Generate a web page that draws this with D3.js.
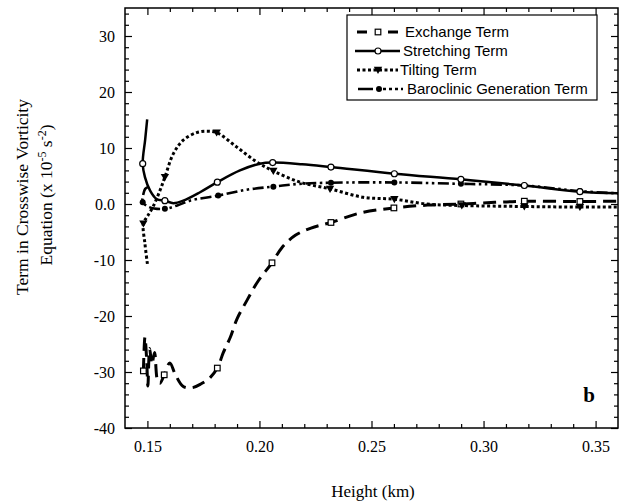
<!DOCTYPE html>
<html>
<head>
<meta charset="utf-8">
<script src="https://cdn.jsdelivr.net/npm/d3@7"></script>
<style>
  html, body { margin: 0; padding: 0; background: #fff; }
  svg { display: block; }
</style>
</head>
<body>
<svg id="chart" width="619" height="504"></svg>
<script>
// ---------- data ----------
const xMajorTicks = [0.15, 0.20, 0.25, 0.30, 0.35];
const xTickLabels = ["0.15", "0.20", "0.25", "0.30", "0.35"];
const yMajorTicks = [30, 20, 10, 0, -10, -20, -30, -40];
const yTickLabels = ["30", "20", "10", "0.0", "-10", "-20", "-30", "-40"];

const exchangeH = [0.1482,0.1489,0.1497,0.1502,0.1510,0.1520,0.1532,0.1545,0.1556,0.1575,0.1600,0.1625,0.1660,0.1700,0.1740,0.1780,0.1812,0.1839,0.1870,0.1900,0.1943,0.1995,0.2056,0.2100,0.2160,0.2230,0.2319,0.2450,0.2600,0.2750,0.2899,0.3050,0.3182,0.3430,0.3600];
const exchangeV = [-29.8,-23.8,-28.0,-32.5,-25.8,-28.6,-26.5,-31.5,-32.0,-30.5,-28.4,-30.5,-32.6,-32.8,-32.1,-31.0,-29.3,-26.5,-23.8,-20.5,-17.3,-13.7,-10.5,-7.8,-5.6,-4.3,-3.3,-1.6,-0.7,-0.2,0.0,0.3,0.5,0.45,0.5];
const exchangeMarks = [0,9,16,22,26,28,30,32,33];

const stretchingH = [0.1499,0.1490,0.1479,0.1489,0.1512,0.1541,0.1578,0.1616,0.1660,0.1735,0.1812,0.1913,0.2002,0.2059,0.2190,0.2319,0.2602,0.2899,0.3182,0.3430,0.3600];
const stretchingV = [15.1,11.5,7.2,4.8,2.4,0.9,0.6,0.15,0.6,2.1,3.9,6.0,7.2,7.4,7.1,6.6,5.4,4.4,3.3,2.2,1.9];
const stretchingMarks = [2,6,10,13,15,16,17,18,19];

const tiltingH = [0.1500,0.1489,0.1482,0.1500,0.1525,0.1556,0.1578,0.1616,0.1660,0.1720,0.1765,0.1809,0.1898,0.1988,0.2062,0.2181,0.2315,0.2463,0.2602,0.2746,0.2903,0.3182,0.3430,0.3600];
const tiltingV = [-10.7,-7.1,-3.5,-2.2,-0.5,2.4,4.8,9.0,11.4,12.75,13.0,12.75,10.2,7.5,5.9,3.9,2.7,1.2,0.85,0.0,-0.27,-0.45,-0.55,-0.55];
const tiltingMarks = [2,6,11,14,16,18,20,21,22];

const baroclinicH = [0.1507,0.1490,0.1481,0.1479,0.1500,0.1530,0.1578,0.1630,0.1690,0.1816,0.1943,0.2062,0.2180,0.2319,0.2602,0.2899,0.3182,0.3430,0.3600];
const baroclinicV = [3.1,2.7,1.6,0.33,-0.4,-0.8,-0.86,-0.3,0.6,1.5,2.55,3.1,3.6,3.8,3.85,3.6,3.3,2.3,1.9];
const baroclinicMarks = [3,6,9,11,13,14,15,16,17];

const legendLabels = ["Exchange Term", "Stretching Term", "Tilting Term", "Baroclinic Generation Term"];

// ---------- layout ----------
const svg = d3.select("#chart");
const L = 125, R = 618, T = 8, B = 428;
const x = d3.scaleLinear().domain([0.14, 0.36]).range([L, R]);
const y = d3.scaleLinear().domain([-40, 35]).range([B, T]);
const serif = "'Liberation Serif', 'Times New Roman', serif";
const sans = "'Liberation Sans', Arial, Helvetica, sans-serif";

const xMinor = d3.range(15, 36).map(d => d / 100).filter(d => !xMajorTicks.some(m => Math.abs(m - d) < 1e-9));
const yMinor = d3.range(-40, 35, 2).filter(d => d % 10 !== 0);

function styleAxis(g) {
  g.select(".domain").remove();
  g.selectAll("line").attr("stroke", "#000").attr("stroke-width", 1.2);
}

// bottom
svg.append("g").attr("transform", `translate(0,${B})`)
  .call(d3.axisBottom(x).tickValues(xMajorTicks).tickSize(-7).tickPadding(13)
    .tickFormat((d, i) => xTickLabels[i]))
  .call(styleAxis)
  .call(g => g.selectAll("text").attr("font-family", serif).attr("font-size", 16).attr("fill", "#000"));
svg.append("g").attr("transform", `translate(0,${B})`)
  .call(d3.axisBottom(x).tickValues(xMinor).tickSize(-4).tickFormat(""))
  .call(styleAxis);
// top
svg.append("g").attr("transform", `translate(0,${T})`)
  .call(d3.axisTop(x).tickValues(xMajorTicks).tickSize(-7).tickFormat(""))
  .call(styleAxis);
svg.append("g").attr("transform", `translate(0,${T})`)
  .call(d3.axisTop(x).tickValues(xMinor).tickSize(-4).tickFormat(""))
  .call(styleAxis);
// left
svg.append("g").attr("transform", `translate(${L},0)`)
  .call(d3.axisLeft(y).tickValues(yMajorTicks).tickSize(-7).tickPadding(10)
    .tickFormat((d, i) => yTickLabels[i]))
  .call(styleAxis)
  .call(g => g.selectAll("text").attr("font-family", serif).attr("font-size", 16).attr("fill", "#000"));
svg.append("g").attr("transform", `translate(${L},0)`)
  .call(d3.axisLeft(y).tickValues(yMinor).tickSize(-4).tickFormat(""))
  .call(styleAxis);
// right
svg.append("g").attr("transform", `translate(${R},0)`)
  .call(d3.axisRight(y).tickValues(yMajorTicks).tickSize(-7).tickFormat(""))
  .call(styleAxis);
svg.append("g").attr("transform", `translate(${R},0)`)
  .call(d3.axisRight(y).tickValues(yMinor).tickSize(-4).tickFormat(""))
  .call(styleAxis);

// frame
svg.append("rect").attr("x", L).attr("y", T).attr("width", R - L).attr("height", B - T)
  .attr("fill", "none").attr("stroke", "#000").attr("stroke-width", 1.5);

// ---------- series ----------
const series = [
  { key: "exchange", H: exchangeH, V: exchangeV, marks: exchangeMarks, dash: "13,7", legendDash: "10,9,4,8", width: 3, marker: "square" },
  { key: "baroclinic", H: baroclinicH, V: baroclinicV, marks: baroclinicMarks, dash: "11,3.5,2.5,3.5,2.5,3.5", legendDash: "15,4,3,3,3,3,3,3,3,3,3,30", width: 2.6, marker: "dot" },
  { key: "tilting", H: tiltingH, V: tiltingV, marks: tiltingMarks, dash: "3,2.5", legendDash: "3,2.5", width: 3, marker: "triangle" },
  { key: "stretching", H: stretchingH, V: stretchingV, marks: stretchingMarks, dash: null, legendDash: null, width: 2.5, marker: "circle" }
];

const line = d3.line().x(d => x(d[0])).y(d => y(d[1])).curve(d3.curveCatmullRom.alpha(0.5));
const plot = svg.append("g");

series.forEach(s => {
  const pts = s.H.map((h, i) => [h, s.V[i]]);
  plot.append("path").datum(pts).attr("d", line)
    .attr("fill", "none").attr("stroke", "#000").attr("stroke-width", s.width)
    .attr("stroke-dasharray", s.dash).attr("stroke-linejoin", "round");
});

function drawMarker(g, type, cx, cy) {
  if (type === "square") {
    g.append("rect").attr("x", cx - 2.8).attr("y", cy - 2.8).attr("width", 5.6).attr("height", 5.6)
      .attr("fill", "#fff").attr("stroke", "#000").attr("stroke-width", 1.2);
  } else if (type === "circle") {
    g.append("circle").attr("cx", cx).attr("cy", cy).attr("r", 3)
      .attr("fill", "#fff").attr("stroke", "#000").attr("stroke-width", 1.2);
  } else if (type === "dot") {
    g.append("circle").attr("cx", cx).attr("cy", cy).attr("r", 3).attr("fill", "#000");
  } else if (type === "triangle") {
    g.append("path").attr("d", `M${cx - 4.2},${cy - 3.2}L${cx + 4.2},${cy - 3.2}L${cx},${cy + 4}Z`).attr("fill", "#000");
  }
}

series.forEach(s => {
  s.marks.forEach(i => drawMarker(plot, s.marker, x(s.H[i]), y(s.V[i])));
});

// ---------- legend ----------
const lg = svg.append("g");
lg.append("rect").attr("x", 347).attr("y", 15).attr("width", 250).attr("height", 85)
  .attr("fill", "#fff").attr("stroke", "#000").attr("stroke-width", 1.2);
const legendSeries = [series[0], series[3], series[2], series[1]];
const legendSample = [[357, 400, 405, 378], [355, 400, 403, 378], [357, 398, 400, 378], [358, 403, 407, 379]];
legendSeries.forEach((s, i) => {
  const cy = 32 + i * 19;
  const [x0, x1, tx, mx] = legendSample[i];
  lg.append("line").attr("x1", x0).attr("x2", x1).attr("y1", cy).attr("y2", cy)
    .attr("stroke", "#000").attr("stroke-width", s.width).attr("stroke-dasharray", s.legendDash);
  drawMarker(lg, s.marker, mx, cy);
  lg.append("text").attr("x", tx).attr("y", cy + 5.3).text(legendLabels[i])
    .attr("font-family", sans).attr("font-size", 15).attr("fill", "#000");
});

// ---------- titles ----------
svg.append("text").attr("x", 373).attr("y", 497).attr("text-anchor", "middle")
  .attr("font-family", serif).attr("font-size", 17).text("Height (km)");

svg.append("text").attr("transform", "translate(28,197) rotate(-90)")
  .attr("text-anchor", "middle").attr("font-family", serif).attr("font-size", 17.5)
  .text("Term in Crosswise Vorticity");
const yt2 = svg.append("text").attr("transform", "translate(52,195) rotate(-90)")
  .attr("text-anchor", "middle").attr("font-family", serif).attr("font-size", 17.5);
yt2.append("tspan").text("Equation  (x 10");
yt2.append("tspan").attr("dy", -6).attr("font-size", 12).text("-5");
yt2.append("tspan").attr("dy", 6).text(" s");
yt2.append("tspan").attr("dy", -6).attr("font-size", 12).text("-2");
yt2.append("tspan").attr("dy", 6).text(")");

svg.append("text").attr("x", 589).attr("y", 402).attr("text-anchor", "middle")
  .attr("font-family", serif).attr("font-size", 21).attr("font-weight", "bold").text("b");
</script>
</body>
</html>
